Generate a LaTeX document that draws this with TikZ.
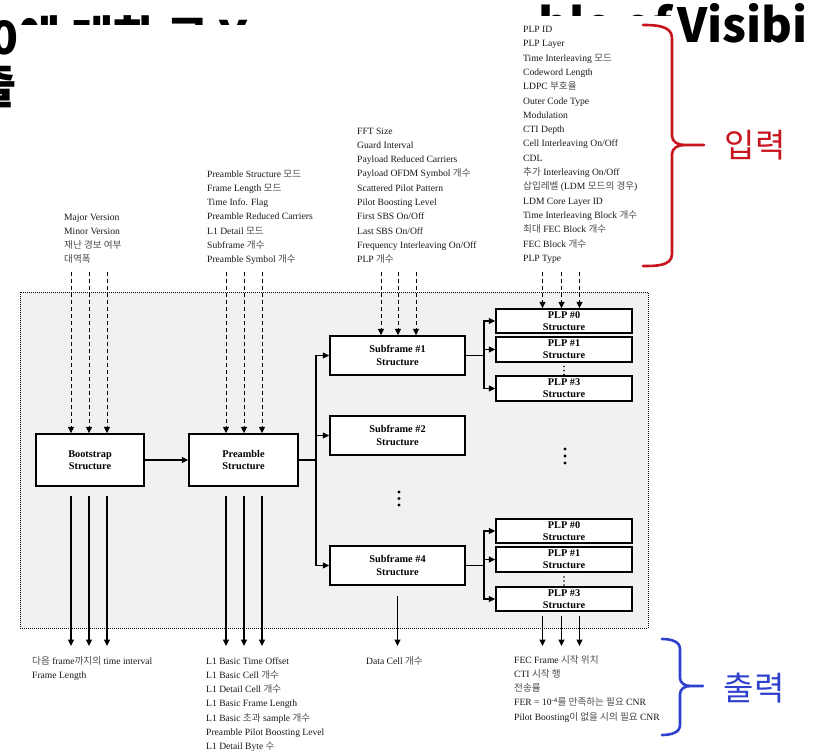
\documentclass[tikz,border=0pt]{standalone}
\usepackage{fontspec}
\setmainfont{Liberation Serif}
\newfontfamily\kr{Noto Sans CJK KR}
\usetikzlibrary{arrows.meta}
\definecolor{bracered}{RGB}{200,20,30}
\definecolor{braceblue}{RGB}{45,65,205}
\definecolor{panelgray}{RGB}{241,241,241}
\newcommand{\K}[1]{{\kr\color{black!70}#1}}
\begin{document}
\begin{tikzpicture}[x=1pt,y=-1pt,
  lst/.style={inner sep=0pt, font=\fontsize{9.6}{11}\selectfont, text=black!90},
  blk/.style={draw, line width=1.5pt, fill=white, font=\bfseries\fontsize{10.3}{12.5}\selectfont, align=center, inner sep=0pt},
  plpbox/.style={blk, minimum width=136pt, minimum height=24pt, font=\bfseries\fontsize{10.3}{12}\selectfont},
  sfbox/.style={blk, minimum width=135pt, minimum height=39pt},
  arrtip/.style={-{Triangle[length=6.5pt,width=6pt]}},
  inarr/.style={arrtip, dash pattern=on 4pt off 3pt, line width=0.9pt},
  outarr/.style={arrtip, line width=1.1pt},
  conn/.style={arrtip, line width=1.1pt},
  bracepath/.style={line width=2.6pt, line cap=round, line join=round},
  bigdot/.style={circle, fill=black, inner sep=0pt, minimum size=3.4pt},
  smalldot/.style={circle, fill=black, inner sep=0pt, minimum size=1.6pt},
  titlefont/.style={inner sep=0pt, font=\kr\bfseries\fontsize{#1}{#1}\selectfont},
]
\useasboundingbox (0,0) rectangle (819,752);
\fill[white] (0,0) rectangle (819,752);

% clipped title fragments (the slide title mostly hidden behind the diagram)
\begin{scope}
\clip (0,0) -- (819,0) -- (819,60) -- (676,60) -- (676,16) -- (480,16) -- (480,25) -- (17,25) -- (17,115) -- (0,115) -- cycle;
\node[titlefont=46, anchor=base west] (ttlA) at (-10,55) {0에 대한 로 Y};
\node[titlefont=47, anchor=base east] (ttlB) at (672,43) {ble of};
\node[titlefont=47, anchor=base west] (ttlV) at (677,43) {Visibi};
\node[titlefont=48, anchor=east] (ttlC) at (17,85) {출};
\end{scope}

% panel
\node[draw, dash pattern=on 1pt off 1pt, line width=0.9pt, fill=panelgray, minimum width=628pt, minimum height=336pt, inner sep=0pt] (frame) at (334,460) {};

% blocks
\node[blk, minimum width=108pt, minimum height=52pt] (bs) at (90,460) {Bootstrap\\Structure};
\node[blk, minimum width=109pt, minimum height=52pt] (pre) at (243.5,460) {Preamble\\Structure};
\node[sfbox] (sf1) at (397.5,355.5) {Subframe \#1\\Structure};
\node[sfbox] (sf2) at (397.5,435.5) {Subframe \#2\\Structure};
\node[sfbox] (sf4) at (397.5,565.5) {Subframe \#4\\Structure};
\node[plpbox] (p10) at (564,321) {PLP \#0\\Structure};
\node[plpbox, minimum height=25pt] (p11) at (564,349.5) {PLP \#1\\Structure};
\node[plpbox, minimum height=25pt] (p13) at (564,388.5) {PLP \#3\\Structure};
\node[plpbox] (p20) at (564,531) {PLP \#0\\Structure};
\node[plpbox, minimum height=25pt] (p21) at (564,559.5) {PLP \#1\\Structure};
\node[plpbox] (p23) at (564,599) {PLP \#3\\Structure};

% dots
\foreach \yy [count=\i] in {492,498.5,505} \node[bigdot] (dA\i) at (399,\yy) {};
\foreach \yy [count=\i] in {449,456,463} \node[bigdot] (dB\i) at (565,\yy) {};
\foreach \yy [count=\i] in {366.5,370.5,374.5} \node[smalldot] (dC\i) at (564,\yy) {};
\foreach \yy [count=\i] in {577,581,585} \node[smalldot] (dD\i) at (564,\yy) {};

% connectors
\draw[conn] (bs.east) -- (pre.west);
\coordinate (brA) at (316,460);
\draw[line width=1.1pt] (pre.east) -- (brA);
\draw[conn] (brA) |- (sf1.west);
\draw[conn] (brA) |- (sf2.west);
\draw[conn] (brA) |- (sf4.west);
\coordinate (brB) at (484,355.5);
\draw[line width=1.1pt] (sf1.east) -- (brB);
\draw[conn] (brB) |- (p10.west);
\draw[conn] (brB) |- (p11.west);
\draw[conn] (brB) |- (p13.west);
\coordinate (brC) at (484,565.5);
\draw[line width=1.1pt] (sf4.east) -- (brC);
\draw[conn] (brC) |- (p20.west);
\draw[conn] (brC) |- (p21.west);
\draw[conn] (brC) |- (p23.west);

% input / output arrows
\foreach \x [count=\i] in {71,89,107} {
  \coordinate (ia\i) at (\x,272);
  \draw[inarr] (ia\i) -- (ia\i |- bs.north);
  \coordinate (oa\i) at (\x,646);
  \draw[outarr] ([yshift=-9pt]oa\i |- bs.south) -- (oa\i);
}
\foreach \x [count=\i] in {226,244,262} {
  \coordinate (ib\i) at (\x,272);
  \draw[inarr] (ib\i) -- (ib\i |- pre.north);
  \coordinate (ob\i) at (\x,646);
  \draw[outarr] ([yshift=-9pt]ob\i |- pre.south) -- (ob\i);
}
\foreach \x [count=\i] in {381,398,416} {
  \coordinate (ic\i) at (\x,272);
  \draw[inarr] (ic\i) -- (ic\i |- sf1.north);
}
\coordinate (oc) at (397.5,646);
\draw[outarr] ([yshift=-10pt]sf4.south) -- (oc);
\foreach \x [count=\i] in {542.5,561.5,579.5} {
  \coordinate (id\i) at (\x,272);
  \draw[inarr] (id\i) -- (id\i |- p10.north);
  \coordinate (od\i) at (\x,646);
  \draw[outarr] ([yshift=-4pt]od\i |- p23.south) -- (od\i);
}

% input lists
\foreach \t [count=\i] in {Major Version, Minor Version, \K{재난 경보 여부}, \K{대역폭}}
  \node[lst, anchor=base west] (la\i) at (64,{220+14.3*(\i-1)}) {\t};
\foreach \t [count=\i] in {Preamble Structure \K{모드}, Frame Length \K{모드}, Time Info. Flag, Preamble Reduced Carriers, L1 Detail \K{모드}, Subframe \K{개수}, Preamble Symbol \K{개수}}
  \node[lst, anchor=base west] (lb\i) at (207,{177+14.3*(\i-1)}) {\t};
\foreach \t [count=\i] in {FFT Size, Guard Interval, Payload Reduced Carriers, Payload OFDM Symbol \K{개수}, Scattered Pilot Pattern, Pilot Boosting Level, First SBS On/Off, Last SBS On/Off, Frequency Interleaving On/Off, PLP \K{개수}}
  \node[lst, anchor=base west] (lc\i) at (357,{134+14.3*(\i-1)}) {\t};
\foreach \t [count=\i] in {PLP ID, PLP Layer, Time Interleaving \K{모드}, Codeword Length, LDPC \K{부호율}, Outer Code Type, Modulation, CTI Depth, Cell Interleaving On/Off, CDL, \K{추가} Interleaving On/Off, \K{삽입레벨} (LDM \K{모드의 경우}), LDM Core Layer ID, Time Interleaving Block \K{개수}, \K{최대} FEC Block \K{개수}, FEC Block \K{개수}, PLP Type}
  \node[lst, anchor=base west] (ld\i) at (523,{32.5+14.3*(\i-1)}) {\t};

% output lists
\foreach \t [count=\i] in {\K{다음} frame\K{까지의} time interval, Frame Length}
  \node[lst, anchor=base west] (le\i) at (32,{664+14.3*(\i-1)}) {\t};
\foreach \t [count=\i] in {L1 Basic Time Offset, L1 Basic Cell \K{개수}, L1 Detail Cell \K{개수}, L1 Basic Frame Length, L1 Basic \K{초과} sample \K{개수}, Preamble Pilot Boosting Level, L1 Detail Byte \K{수}}
  \node[lst, anchor=base west] (lf\i) at (206,{664+14.3*(\i-1)}) {\t};
\node[lst, anchor=base west] (lg1) at (366,664) {Data Cell \K{개수}};
\foreach \t [count=\i] in {FEC Frame \K{시작 위치}, CTI \K{시작 행}, \K{전송률}, FER = 10\textsuperscript{-4}\K{를 만족하는 필요} CNR, Pilot Boosting\K{이 없을 시의 필요} CNR}
  \node[lst, anchor=base west] (lh\i) at (514,{663+14.3*(\i-1)}) {\t};

% braces
\draw[bracered, bracepath] (643,25) to[out=0,in=90] (672,38) -- (672,136) to[out=-90,in=180] (684,145) -- (704,145);
\draw[bracered, bracepath] (684,145) to[out=180,in=90] (672,154) -- (672,254) to[out=-90,in=0] (643,266);
\node[text=bracered, inner sep=0pt, font=\kr\fontsize{33}{33}\selectfont] (inlab) at (755,145) {입력};

\draw[braceblue, bracepath] (662,639) to[out=0,in=90] (680,649) -- (680,678) to[out=-90,in=180] (690,686) -- (703,686);
\draw[braceblue, bracepath] (690,686) to[out=180,in=90] (680,694) -- (680,725) to[out=-90,in=0] (662,735);
\node[text=braceblue, inner sep=0pt, font=\kr\fontsize{33}{33}\selectfont] (outlab) at (754,688) {출력};
\end{tikzpicture}
\end{document}
